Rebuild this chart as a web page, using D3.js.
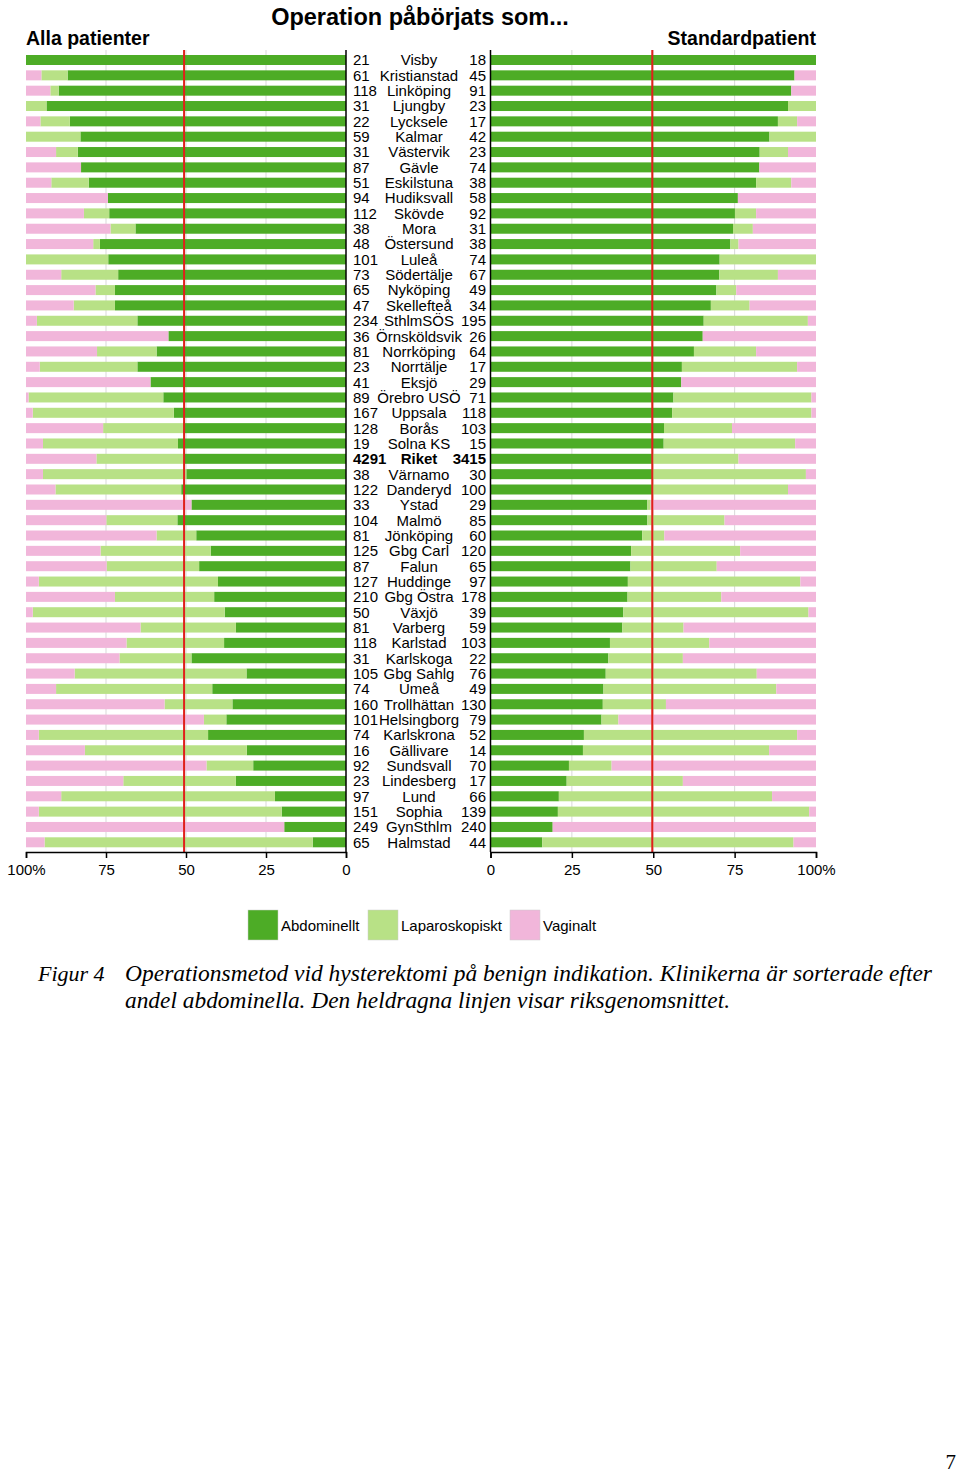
<!DOCTYPE html>
<html>
<head>
<meta charset="utf-8">
<script src="https://cdn.jsdelivr.net/npm/d3@7"></script>
<style>
body{margin:0;background:#fff;}
svg{display:block;}
</style>
</head>
<body>
<svg id="chart"></svg>
<script>
// kliniker, sorterade efter andel abdominella (standardpatient)
var clinics=["Visby","Kristianstad","Linköping","Ljungby","Lycksele","Kalmar","Västervik","Gävle","Eskilstuna","Hudiksvall","Skövde","Mora","Östersund","Luleå","Södertälje","Nyköping","Skellefteå","SthlmSÖS","Örnsköldsvik","Norrköping","Norrtälje","Eksjö","Örebro USÖ","Uppsala","Borås","Solna KS","Riket","Värnamo","Danderyd","Ystad","Malmö","Jönköping","Gbg Carl","Falun","Huddinge","Gbg Östra","Växjö","Varberg","Karlstad","Karlskoga","Gbg Sahlg","Umeå","Trollhättan","Helsingborg","Karlskrona","Gällivare","Sundsvall","Lindesberg","Lund","Sophia","GynSthlm","Halmstad"];
var nAll=[21,61,118,31,22,59,31,87,51,94,112,38,48,101,73,65,47,234,36,81,23,41,89,167,128,19,4291,38,122,33,104,81,125,87,127,210,50,81,118,31,105,74,160,101,74,16,92,23,97,151,249,65];
var nStd=[18,45,91,23,17,42,23,74,38,58,92,31,38,74,67,49,34,195,26,64,17,29,71,118,103,15,3415,30,100,29,85,60,120,65,97,178,39,59,103,22,76,49,130,79,52,14,70,17,66,139,240,44];

// Alla patienter (%)
var allAbd=[100,87.0,89.8,93.6,86.3,83.0,83.8,82.8,80.4,74.4,74.0,65.8,76.9,74.3,71.2,72.2,72.2,65.2,55.5,59.2,65.2,61.1,57.1,53.8,50.9,52.5,50.6,49.9,51.5,48.3,52.7,46.8,42.3,45.9,40.0,41.2,37.9,34.4,38.1,48.3,31.1,41.8,35.5,37.4,43.1,31.0,29.0,34.4,22.2,20.1,19.3,10.4];
var allLap=[0,8.2,2.6,6.4,9.2,17.0,6.8,0,11.7,0,7.9,7.8,2.1,25.7,17.8,6.1,12.9,31.4,0,18.6,30.5,0,42.1,44.1,25.0,42.2,27.4,44.8,39.3,0,22.2,12.4,34.4,28.9,56.0,31.0,60.0,29.8,30.5,22.5,53.7,48.8,21.2,7.0,52.9,50.6,14.6,35.2,66.8,75.9,0,83.8];
var allVag=[0,4.8,7.6,0,4.5,0,9.4,17.2,7.9,25.6,18.1,26.4,21.0,0,11.0,21.7,14.9,3.4,44.5,22.2,4.3,38.9,0.8,2.1,24.1,5.3,22.0,5.3,9.2,51.7,25.1,40.8,23.3,25.2,4.0,27.8,2.1,35.8,31.4,29.2,15.2,9.4,43.3,55.6,4.0,18.4,56.4,30.4,11.0,4.0,80.7,5.8];

// Standardpatient (%)
var stdAbd=[100,93.4,92.4,91.4,88.3,85.7,82.7,82.6,81.6,76.0,75.1,74.5,73.7,70.4,70.3,69.4,67.7,65.5,65.2,62.5,58.8,58.6,56.2,55.8,53.3,53.2,49.7,49.7,49.7,48.2,48.2,46.6,43.2,43.0,42.2,42.1,40.8,40.5,36.7,36.2,35.4,34.7,34.5,34.1,28.7,28.4,24.1,23.4,21.0,20.7,19.1,15.9];
var stdLap=[0,0,0,8.6,5.9,14.3,8.7,0,10.8,0,6.5,6.1,2.5,29.6,18.0,6.1,11.9,32.0,0,19.1,35.4,0,42.4,42.8,20.9,40.4,26.5,47.2,41.7,1.0,23.7,6.8,33.5,26.5,53.0,28.8,56.9,18.8,30.5,22.9,46.4,53.1,19.4,5.2,65.5,57.2,13.1,35.7,65.5,77.2,0,77.2];
var stdVag=[0,6.6,7.6,0,5.8,0,8.6,17.4,7.6,24.0,18.4,19.4,23.8,0,11.7,24.5,20.4,2.5,34.8,18.4,5.8,41.4,1.4,1.4,25.8,6.4,23.8,3.1,8.6,50.8,28.1,46.6,23.3,30.5,4.8,29.1,2.3,40.7,32.8,40.9,18.2,12.2,46.1,60.7,5.8,14.4,62.8,40.9,13.5,2.1,80.9,6.9];

var methods=["abd","lap","vag"];
var methodNames=["Abdominellt","Laparoskopiskt","Vaginalt"];
var colors=["#4dac26","#b8e186","#f1b6da"];
var tickVals=[0,0.25,0.5,0.75,1];

var W=960,H=1474;
var svg=d3.select("#chart").attr("width",W).attr("height",H);

var y=d3.scalePoint().domain(clinics).range([60,842.3]);
var barH=10;
var xL=d3.scaleLinear().domain([0,1]).range([346,26]);
var xR=d3.scaleLinear().domain([0,1]).range([490.5,816]);
var color=d3.scaleOrdinal().domain(methods).range(colors);
var panelTop=50,axisY=852;

var makeRows=function(a,l,v){
    return clinics.map(function(c,i){return {name:c,abd:a[i],lap:l[i],vag:v[i]};});
}
var stack=d3.stack().keys(methods).offset(d3.stackOffsetExpand);

var drawPanel=function(rows,x,left){
    var g=svg.append("g");
    // rutnät
    g.selectAll(".grid").data([0.25,0.5,0.75]).enter().append("line")
        .attr("x1",function(d){return x(d)}).attr("x2",function(d){return x(d)})
        .attr("y1",panelTop).attr("y2",axisY)
        .attr("stroke","#d9d9d9").attr("stroke-width",1);
    var series=stack(rows);
    g.selectAll(".s").data(series).enter().append("g")
        .attr("fill",function(s){return color(s.key)})
        .selectAll("rect").data(function(s){return s}).enter().append("rect")
        .attr("x",function(d){return left?x(d[1]):x(d[0])})
        .attr("width",function(d){return Math.abs(x(d[1])-x(d[0]))})
        .attr("y",function(d){return y(d.data.name)-barH/2})
        .attr("height",barH);
    // riksgenomsnitt
    var riket=series[0].find(function(d){return d.data.name=="Riket"});
    g.append("line")
        .attr("x1",x(riket[1])).attr("x2",x(riket[1]))
        .attr("y1",panelTop).attr("y2",axisY)
        .attr("stroke","#e0201b").attr("stroke-width",2);
    // nollinje
    g.append("line").attr("x1",x(0)).attr("x2",x(0)).attr("y1",panelTop).attr("y2",axisY)
        .attr("stroke","#000").attr("stroke-width",1.5);
    var axis=d3.axisBottom(x).tickValues(tickVals).tickSizeInner(6).tickSizeOuter(6)
        .tickFormat(function(d){return d==1?"100%":String(d*100)});
    var ag=g.append("g").attr("transform","translate(0,"+axisY+")").call(axis);
    ag.selectAll("path,line").attr("stroke","#000").attr("stroke-width",1.5);
    ag.selectAll("text").attr("font-family","Liberation Sans, Arial, sans-serif")
        .attr("font-size",15).attr("fill","#000").attr("dy","0.95em");
}

drawPanel(makeRows(allAbd,allLap,allVag),xL,true);
drawPanel(makeRows(stdAbd,stdLap,stdVag),xR,false);

// etiketter i mitten
var lab=svg.append("g").attr("font-family","Liberation Sans, Arial, sans-serif").attr("font-size",15).attr("fill","#000");
clinics.forEach(function(c,i){
    var w=c=="Riket"?"bold":"normal";
    lab.append("text").attr("x",353).attr("y",y(c)).attr("dy","0.36em").attr("font-weight",w).text(nAll[i]);
    lab.append("text").attr("x",419).attr("y",y(c)).attr("dy","0.36em").attr("text-anchor","middle").attr("font-weight",w).text(c);
    lab.append("text").attr("x",486).attr("y",y(c)).attr("dy","0.36em").attr("text-anchor","end").attr("font-weight",w).text(nStd[i]);
});

// rubriker
svg.append("text").attr("x",420).attr("y",25).attr("text-anchor","middle")
    .attr("font-family","Liberation Sans, Arial, sans-serif").attr("font-weight","bold").attr("font-size",23.5)
    .text("Operation påbörjats som...");
svg.append("text").attr("x",26).attr("y",45)
    .attr("font-family","Liberation Sans, Arial, sans-serif").attr("font-weight","bold").attr("font-size",19.5)
    .text("Alla patienter");
svg.append("text").attr("x",816).attr("y",45).attr("text-anchor","end")
    .attr("font-family","Liberation Sans, Arial, sans-serif").attr("font-weight","bold").attr("font-size",19.5)
    .text("Standardpatient");

// legend
var legX=[248,368,510];
var leg=svg.append("g");
methods.forEach(function(m,i){
    leg.append("rect").attr("x",legX[i]).attr("y",910).attr("width",30).attr("height",30)
        .attr("fill",color(m)).attr("stroke","#ccc").attr("stroke-width",0.5);
    leg.append("text").attr("x",legX[i]+33).attr("y",931)
        .attr("font-family","Liberation Sans, Arial, sans-serif").attr("font-size",15)
        .text(methodNames[i]);
});

// figurtext
var cap=svg.append("g").attr("font-family","Liberation Serif, Times New Roman, serif").attr("font-style","italic").attr("font-size",23);
cap.append("text").attr("x",38).attr("y",981).attr("font-size",22).text("Figur 4");
cap.append("text").attr("x",125).attr("y",981).attr("textLength",807).attr("lengthAdjust","spacingAndGlyphs")
    .text("Operationsmetod vid hysterektomi på benign indikation. Klinikerna är sorterade efter");
cap.append("text").attr("x",125).attr("y",1008).attr("textLength",605).attr("lengthAdjust","spacingAndGlyphs")
    .text("andel abdominella. Den heldragna linjen visar riksgenomsnittet.");
svg.append("text").attr("x",956).attr("y",1469).attr("text-anchor","end")
    .attr("font-family","Liberation Serif, Times New Roman, serif").attr("font-size",21).text("7");
</script>
</body>
</html>
